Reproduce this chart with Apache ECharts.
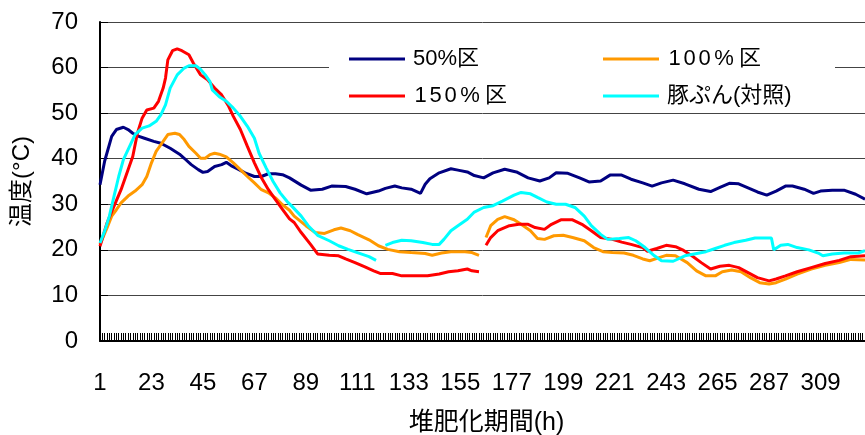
<!DOCTYPE html>
<html>
<head>
<meta charset="utf-8">
<script src="https://cdn.jsdelivr.net/npm/echarts@6/dist/echarts.min.js"></script>
<style>
  html, body { margin: 0; padding: 0; background: #ffffff; }
  #chart { width: 865px; height: 435px; }
</style>
</head>
<body>
<div id="chart"></div>
<script>
// Composting temperature by hour for three mixing ratios and the pig-manure control.
const lastHour = 328;
const yTicks = { min: 0, max: 70, step: 10 };

const name50 = '50%区';
const name100 = '100%区';
const name150 = '150%区';
const nameCtrl = '豚ぷん(対照)';

// 50%区
const hours50 = [1, 3, 6, 8, 11, 13, 15, 17, 20, 24, 27, 31, 35, 37, 40, 43, 45, 47, 50, 53, 55, 57, 60, 63, 67, 70, 73, 76, 79, 82, 87, 91, 96, 100, 106, 110, 115, 120, 123, 127, 130, 134, 138, 140, 142, 146, 151, 154, 158, 161, 165, 169, 174, 179, 184, 189, 193, 196, 201, 206, 210, 215, 219, 224, 228, 233, 237, 241, 246, 251, 257, 262, 266, 270, 274, 279, 282, 286, 290, 294, 297, 302, 306, 309, 314, 319, 324, 328];
const temp50 = [34.3, 39.5, 44.9, 46.4, 46.9, 46.4, 45.6, 45.0, 44.5, 43.8, 43.4, 42.3, 41.0, 40.1, 38.7, 37.6, 37.0, 37.2, 38.3, 38.7, 39.2, 38.5, 37.7, 36.9, 36.1, 36.1, 36.7, 36.7, 36.5, 35.8, 34.2, 33.1, 33.3, 34.0, 33.9, 33.3, 32.3, 32.9, 33.5, 34.0, 33.6, 33.3, 32.4, 34.4, 35.6, 36.9, 37.8, 37.5, 37.1, 36.3, 35.8, 36.9, 37.7, 37.1, 35.8, 35.1, 35.8, 36.9, 36.8, 35.8, 34.9, 35.1, 36.4, 36.4, 35.5, 34.7, 34.0, 34.7, 35.3, 34.5, 33.3, 32.8, 33.7, 34.6, 34.5, 33.4, 32.7, 32.0, 32.9, 34.0, 34.0, 33.3, 32.4, 32.9, 33.1, 33.1, 32.2, 31.1];

// 100%区 (null marks the break in the record)
const hours100 = [1, 4, 6, 8, 10, 13, 16, 19, 21, 23, 25, 28, 30, 33, 35, 37, 39, 42, 44, 46, 48, 50, 52, 55, 58, 61, 64, 67, 70, 73, 76, 79, 82, 84, 89, 93, 97, 101, 104, 108, 111, 116, 120, 124, 129, 134, 140, 143, 147, 151, 157, 160, 163, 164, 166, 168, 171, 174, 178, 181, 185, 188, 191, 195, 199, 203, 208, 212, 216, 220, 225, 229, 233, 236, 240, 243, 247, 252, 256, 260, 264, 267, 271, 275, 279, 283, 287, 290, 294, 299, 305, 311, 317, 322, 328];
const temp100 = [21.2, 24.8, 27.4, 28.8, 30.3, 31.8, 32.9, 34.3, 36.1, 39.1, 41.6, 43.8, 45.3, 45.6, 45.3, 44.2, 42.7, 41.2, 40.1, 40.1, 40.9, 41.2, 41.0, 40.4, 39.1, 37.6, 36.1, 34.7, 33.2, 32.5, 31.4, 29.9, 28.7, 27.4, 25.3, 23.8, 23.6, 24.4, 24.8, 24.2, 23.4, 22.2, 20.9, 20.1, 19.6, 19.4, 19.2, 18.8, 19.3, 19.6, 19.6, 19.4, 18.8, null, 22.7, 25.3, 26.7, 27.3, 26.6, 25.6, 24.2, 22.5, 22.3, 23.1, 23.2, 22.7, 22.0, 20.5, 19.6, 19.4, 19.3, 18.8, 18.0, 17.6, 18.3, 18.8, 18.7, 17.2, 15.4, 14.3, 14.3, 15.2, 15.6, 15.2, 13.9, 12.8, 12.5, 12.8, 13.6, 14.7, 15.8, 16.6, 17.2, 17.9, 17.8];

// 150%区
const hours150 = [1, 4, 7, 10, 13, 15, 17, 19, 21, 24, 26, 28, 29, 30, 32, 34, 36, 39, 41, 44, 47, 50, 53, 56, 58, 61, 64, 67, 70, 73, 76, 79, 82, 84, 87, 91, 94, 99, 103, 106, 110, 114, 118, 121, 126, 130, 136, 141, 146, 150, 154, 158, 160, 163, 164, 166, 168, 171, 176, 180, 184, 187, 191, 194, 198, 203, 207, 211, 215, 220, 224, 228, 233, 235, 239, 243, 247, 250, 254, 258, 262, 266, 270, 274, 278, 282, 287, 290, 294, 299, 305, 311, 317, 322, 328];
const temp150 = [20.8, 25.9, 29.6, 33.2, 37.6, 40.5, 45.6, 48.9, 50.7, 51.1, 52.6, 55.5, 57.7, 61.7, 63.7, 64.1, 63.7, 62.8, 60.9, 58.4, 57.3, 55.5, 54.0, 51.5, 49.3, 46.4, 42.7, 39.1, 35.8, 33.2, 31.0, 28.9, 26.8, 26.0, 23.8, 21.2, 19.1, 18.8, 18.7, 18.0, 17.2, 16.3, 15.4, 14.8, 14.8, 14.3, 14.3, 14.3, 14.7, 15.2, 15.4, 15.8, 15.4, 15.2, null, 21.0, 22.7, 24.2, 25.3, 25.6, 25.6, 24.9, 24.5, 25.6, 26.6, 26.6, 25.6, 24.2, 22.7, 22.3, 21.7, 21.2, 20.5, 19.7, 20.3, 21.0, 20.7, 20.0, 18.7, 17.2, 15.8, 16.4, 16.6, 16.1, 15.0, 13.9, 13.2, 13.6, 14.3, 15.2, 16.1, 17.0, 17.7, 18.5, 18.7];

// 豚ぷん(対照)
const hoursCtrl = [1, 3, 5, 7, 9, 11, 14, 16, 19, 22, 25, 27, 29, 31, 34, 37, 39, 42, 44, 46, 48, 49, 52, 55, 58, 61, 64, 67, 69, 72, 75, 78, 81, 83, 87, 90, 94, 99, 103, 107, 111, 116, 119, 121, 123, 126, 130, 134, 139, 143, 146, 148, 151, 154, 158, 161, 165, 169, 173, 178, 181, 185, 188, 192, 196, 200, 204, 208, 211, 215, 218, 223, 227, 230, 234, 238, 241, 246, 251, 255, 260, 264, 268, 272, 277, 281, 285, 288, 289, 292, 295, 299, 304, 308, 310, 314, 319, 325, 328];
const tempCtrl = [21.5, 24.1, 27.4, 31.8, 36.1, 39.8, 43.1, 45.3, 46.7, 47.2, 48.2, 49.6, 51.8, 55.5, 58.4, 59.9, 60.4, 60.4, 59.6, 58.4, 56.9, 55.1, 53.6, 52.6, 51.1, 49.3, 47.1, 44.5, 41.2, 38.0, 35.0, 32.5, 30.6, 29.6, 27.4, 25.3, 23.2, 22.0, 20.9, 20.1, 19.4, 18.5, 17.7, null, 21.0, 21.6, 22.1, 22.0, 21.6, 21.2, 21.2, 22.3, 24.2, 25.3, 26.7, 28.3, 29.3, 29.7, 30.7, 32.0, 32.6, 32.3, 31.5, 30.5, 30.0, 30.0, 29.3, 27.4, 25.3, 23.4, 22.3, 22.5, 22.7, 22.0, 20.5, 18.7, 17.6, 17.5, 18.7, 19.1, 19.6, 20.3, 21.0, 21.6, 22.1, 22.6, 22.6, 22.6, 20.0, 21.0, 21.2, 20.5, 20.0, 19.3, 18.7, 19.1, 19.3, 19.3, 19.8];

// hour categories 1 .. lastHour
const hourCategories = [];
for (let h = 1; h <= lastHour; h++) hourCategories.push(String(h));

function pairs(hours, temps) {
  return hours.map((h, i) => [String(h), temps[i]]);
}

const numFont = '"Liberation Sans", Arial, "Noto Sans CJK JP", sans-serif';
const jpFont = '"Liberation Sans", Arial, "Noto Sans CJK JP", sans-serif';

function lineSeries(name, color, hours, temps) {
  return {
    name: name,
    type: 'line',
    data: pairs(hours, temps),
    showSymbol: false,
    symbol: 'none',
    connectNulls: false,
    lineStyle: { color: color, width: 3 },
    itemStyle: { color: color },
    emphasis: { disabled: true },
    z: 3
  };
}

// Wide-pitch legend labels: every glyph of the 3-digit labels sits in its own cell
function legendLabel(name) {
  if (name !== name100 && name !== name150) return name;
  return name.split('').map(function (c) {
    if (c === '%') return '{p|%}';
    if (/[0-9]/.test(c)) return '{d|' + c + '}';
    return '{k|' + c + '}';
  }).join('');
}

const chart = echarts.init(document.getElementById('chart'), null, { renderer: 'canvas' });

const legendText = {
  fontFamily: jpFont, fontSize: 22, color: '#000', lineHeight: 22, padding: [0, 0, 0, 3],
  rich: {
    d: { fontFamily: jpFont, fontSize: 22, width: 15, align: 'center', lineHeight: 22 },
    p: { fontFamily: jpFont, fontSize: 22, width: 24, align: 'center', lineHeight: 22 },
    k: { fontFamily: jpFont, fontSize: 22, lineHeight: 22, padding: [0, 0, 0, 3] }
  }
};
const legendBase = {
  orient: 'vertical',
  top: 43,
  padding: 5,
  icon: 'rect',
  itemWidth: 56, itemHeight: 3, itemGap: 15,
  textStyle: legendText,
  formatter: legendLabel,
  selectedMode: false,
  z: 2
};

chart.setOption({
  animation: false,
  backgroundColor: '#ffffff',
  grid: { left: 100, right: 0, top: 22, bottom: 94, containLabel: false, outerBoundsMode: 'none' },
  graphic: [{
    type: 'rect',
    left: 329, top: 30,
    shape: { width: 506, height: 76 },
    style: { fill: '#ffffff' },
    z: 1
  }],
  legend: [
    Object.assign({}, legendBase, { data: [name50, name150], left: 344 }),
    Object.assign({}, legendBase, { data: [name100, nameCtrl], left: 598 })
  ],
  xAxis: {
    type: 'category',
    data: hourCategories,
    boundaryGap: false,
    name: '堆肥化期間(h)',
    nameLocation: 'middle',
    nameGap: 70,
    nameTextStyle: { fontFamily: jpFont, fontSize: 25, color: '#000', padding: [0, 0, 0, 8] },
    axisLine: { lineStyle: { color: '#000', width: 2 } },
    axisTick: { show: true, interval: 0, inside: true, length: 8, lineStyle: { color: '#000', width: 1 } },
    axisLabel: { interval: 21, margin: 30, fontFamily: numFont, fontSize: 24, color: '#000' },
    splitLine: { show: false }
  },
  yAxis: {
    type: 'value',
    min: yTicks.min, max: yTicks.max, interval: yTicks.step,
    name: '温度(°C)',
    nameLocation: 'middle',
    nameGap: 66,
    nameRotate: 90,
    nameTextStyle: { fontFamily: jpFont, fontSize: 24, color: '#000' },
    axisLine: { show: true, lineStyle: { color: '#000', width: 2 } },
    axisTick: { show: true, inside: true, length: 8, lineStyle: { color: '#000', width: 1 } },
    axisLabel: { margin: 22, fontFamily: numFont, fontSize: 24, color: '#000' },
    splitLine: { show: true, lineStyle: { color: '#444', width: 1 } }
  },
  series: [
    lineSeries(name50, '#000080', hours50, temp50),
    lineSeries(name100, '#FF9900', hours100, temp100),
    lineSeries(name150, '#FF0000', hours150, temp150),
    lineSeries(nameCtrl, '#00FFFF', hoursCtrl, tempCtrl)
  ]
});
</script>
</body>
</html>
